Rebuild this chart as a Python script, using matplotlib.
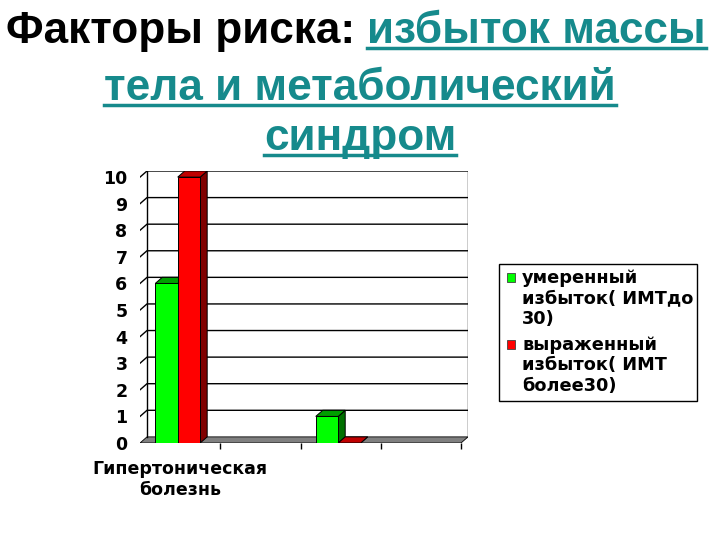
import matplotlib
matplotlib.use("Agg")
import matplotlib.pyplot as plt
import numpy as np
from matplotlib.patches import Rectangle, Polygon
from matplotlib.lines import Line2D

# data
categories = ["Гипертоническая\nболезнь", "", "", ""]
moderate = [6, np.nan, 1, np.nan]
severe = [10, np.nan, 0, np.nan]
series_names = ["умеренный\nизбыток( ИМТдо\n30)", "выраженный\nизбыток( ИМТ\nболее30)"]
yticks = list(range(0, 11))

W, H = 720, 540
fig = plt.figure(figsize=(7.2, 5.4), dpi=100)
fig.patch.set_facecolor("white")

# axes placed in pixel terms: front-left x=140, back-right x=468, floor y=443, top y=171
ax = fig.add_axes([140 / W, 1 - 443 / H, (468 - 140) / W, (443 - 171) / H])
ax.set_xlim(0, 4.087)
ax.set_ylim(0, 10.23)
dx, dy = 0.087, 0.23
for s in ax.spines.values():
    s.set_visible(False)
ax.patch.set_alpha(0)

# floor
ax.add_patch(Polygon([(0, 0), (4, 0), (4 + dx, dy), (dx, dy)], closed=True,
                     facecolor="#808080", edgecolor="black", lw=0.6, zorder=1))
# back wall grid
for y in yticks[1:]:
    ax.plot([0, dx, 4 + dx], [y, y + dy, y + dy], color="black", lw=1, zorder=1)
ax.plot([dx, dx], [dy, 10 + dy], color="black", lw=1, zorder=1)
ax.plot([4 + dx, 4 + dx], [dy, 10 + dy], color="black", lw=1, zorder=1)

colors = [("#00ff00", "#00a000", "#007000"), ("#ff0000", "#c00000", "#800000")]
bw = 0.28


def bar3d(x0, h, cols):
    front, top, side = cols
    ax.add_patch(Polygon([(x0 + bw, 0), (x0 + bw + dx, dy), (x0 + bw + dx, h + dy), (x0 + bw, h)],
                         closed=True, facecolor=side, edgecolor="black", lw=0.7, zorder=3))
    ax.add_patch(Polygon([(x0, h), (x0 + dx, h + dy), (x0 + bw + dx, h + dy), (x0 + bw, h)],
                         closed=True, facecolor=top, edgecolor="black", lw=0.7, zorder=3))
    if h > 0:
        ax.add_patch(Rectangle((x0, 0), bw, h, facecolor=front, edgecolor="black", lw=0.7, zorder=3))


for i in range(len(categories)):
    c = i + 0.5
    for j, vals in enumerate([moderate, severe]):
        v = vals[i]
        if np.isnan(v):
            continue
        bar3d(c - bw - 0.03 + j * bw, v, colors[j])

ax.set_yticks(yticks)
ax.set_yticklabels([str(t) for t in yticks], fontsize=12.5, fontweight="bold",
                   family="DejaVu Sans")
ax.tick_params(axis="y", length=0, pad=9)
ax.set_xticks([i + 0.5 for i in range(len(categories))])
ax.set_xticklabels(categories, fontsize=12.5, fontweight="bold", family="DejaVu Sans",
                   linespacing=1.25)
ax.tick_params(axis="x", length=0, pad=12)
ax.set_xticks([1, 2, 3, 4], minor=True)
ax.tick_params(axis="x", which="minor", length=4, width=1, direction="out")

# legend, drawn by hand so markers sit at the first line of each entry
fig.add_artist(Rectangle((499 / W, 1 - 401 / H), 198 / W, 137 / H, transform=fig.transFigure,
                         facecolor="white", edgecolor="black", lw=1))
lfont = dict(family="DejaVu Sans", fontweight="bold", fontsize=12.8)
first_base = [283, 350]
for k, name in enumerate(series_names):
    b0 = first_base[k]
    fig.add_artist(Rectangle((507 / W, 1 - (b0 - 1) / H), 8 / W, 9 / H, transform=fig.transFigure,
                             facecolor=colors[k][0], edgecolor="#404040", lw=0.6))
    for li, line in enumerate(name.split("\n")):
        fig.text(522 / W, 1 - (b0 + li * 20.5) / H, line, va="baseline", ha="left", **lfont)

# title with underlined teal part
teal = "#168a8c"
tfont = dict(family="Liberation Sans", fontweight="bold", fontsize=31.8)
fig.canvas.draw()
r = fig.canvas.get_renderer()


def place(parts, cx, base):
    texts = []
    for s, col, ul in parts:
        t = fig.text(0, 1 - base / H, s, color=col, va="baseline", ha="left", **tfont)
        texts.append((t, ul, col))
    widths = [t.get_window_extent(r).width for t, _, _ in texts]
    x = cx - sum(widths) / 2
    for (t, ul, col), w in zip(texts, widths):
        t.set_x(x / W)
        if ul:
            yy = 1 - (base + 5) / H
            fig.add_artist(Line2D([x / W, (x + w) / W], [yy, yy], color=col, lw=2.5,
                                  transform=fig.transFigure))
        x += w


place([("Факторы риска: ", "black", False), ("избыток массы", teal, True)], 356, 43)
place([("тела и метаболический", teal, True)], 360, 100)
place([("синдром", teal, True)], 360, 150)

fig.savefig("out.png", dpi=100)
